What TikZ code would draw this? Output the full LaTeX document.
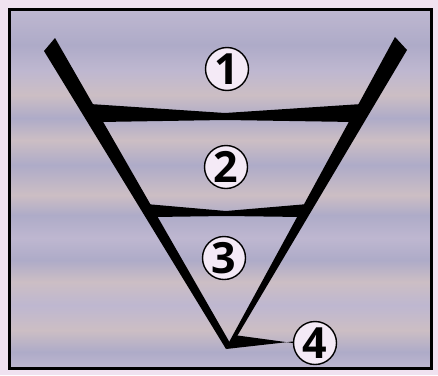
\documentclass[tikz,border=0pt]{standalone}
\usepackage{fontspec}
\setmainfont{Open Sans}
\definecolor{margin}{RGB}{240,226,240}
\definecolor{stA}{RGB}{174,171,200}
\definecolor{stB}{RGB}{204,190,196}
\definecolor{stC}{RGB}{190,183,208}
\definecolor{bubble}{RGB}{244,234,246}

\begin{document}
\begin{tikzpicture}[x=1pt, y=-1pt,
  digit/.style={circle, draw, line width=1.4pt, fill=bubble, minimum size=43pt, inner sep=0pt, font=\fontsize{43}{43}\selectfont\bfseries},
  ink/.style={fill=black}
]
  \useasboundingbox (0,0) rectangle (438,375);
  \fill[margin] (0,0) rectangle (438,375);

  % striped background
  \foreach \ya/\ca/\yb/\cb in {10/stC/45/stA, 45/stA/70/stC, 70/stC/95/stB, 95/stB/118/stA,
      118/stA/140/stB, 140/stB/165/stA, 165/stA/195/stB, 195/stB/215/stA, 215/stA/238/stC,
      238/stC/260/stA, 260/stA/282/stB, 282/stB/305/stC, 305/stC/330/stB, 330/stB/352/stA,
      352/stA/368/stC}
    \shade[top color=\ca, bottom color=\cb] (10,\ya) rectangle (431,\yb);
  \draw[line width=3pt] (9.5,9.5) rectangle (431.5,368);

  % funnel arms
  \coordinate (tip) at (226,349);
  \fill[ink] (44,51) -- (55,38) -- (230,343) -- (tip) -- cycle;
  \fill[ink] (395,37) -- (407,50) -- (236,338) -- (228,344) -- cycle;

  % level lines
  \fill[ink] (90,104) -- (225,113) -- (362,104) -- (354,122) -- (225,120) -- (100,122) -- cycle;
  \fill[ink] (146,204) -- (226,211) -- (308,204) -- (302,217) -- (226,216) -- (154,217) -- cycle;

  % numbered levels
  \node[digit] (n1) at (227,69) {1};
  \node[digit] (n2) at (226,167) {2};
  \node[digit] (n3) at (224,258) {3};
  \node[digit] (n4) at (315,343) {4};

  % pointer to level 4
  \fill[ink] (tip) -- (234,335) -- (n4.west) -- ([yshift=1.5pt]n4.west) -- cycle;
\end{tikzpicture}
\end{document}
